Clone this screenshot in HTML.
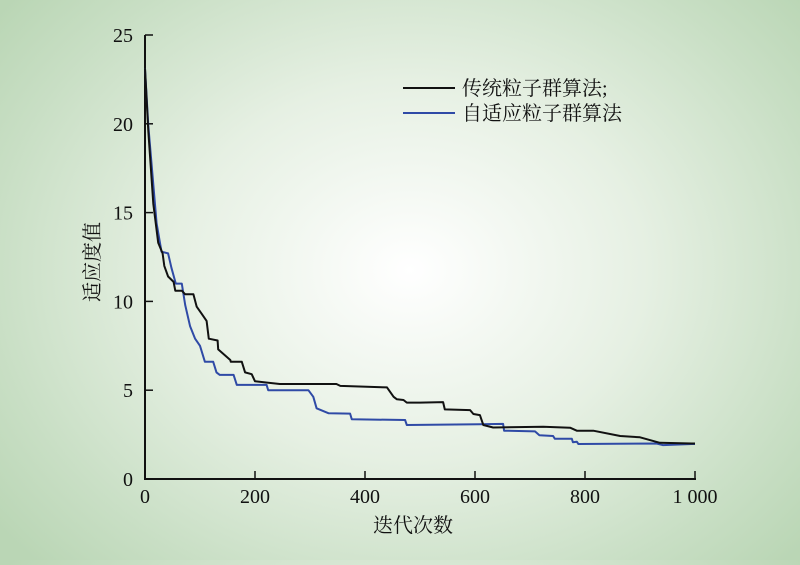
<!DOCTYPE html>
<html><head><meta charset="utf-8"><style>
html,body{margin:0;padding:0}
body{width:800px;height:560px;overflow:hidden;background:radial-gradient(ellipse 520px 420px at 410px 270px,#ffffff 0%,#e6f0e3 45%,#c9dfc5 80%,#bad6b5 100%)}
svg text{font-family:"Liberation Serif","Noto Serif CJK SC",serif;fill:#111}
</style></head><body>
<svg id="chart" width="800" height="560" xmlns="http://www.w3.org/2000/svg">
<g id="axes"></g>
<g id="series"></g>
<g>
<line x1="403" y1="88" x2="455" y2="88" stroke="#111" stroke-width="2"/>
<text x="462" y="95" font-size="20">传统粒子群算法;</text>
<line x1="403" y1="113" x2="455" y2="113" stroke="#2f4aa6" stroke-width="2"/>
<text x="462" y="120" font-size="20">自适应粒子群算法</text>
</g>
<text x="413" y="532" font-size="20" text-anchor="middle">迭代次数</text>
<text transform="translate(99,262) rotate(-90)" font-size="20" text-anchor="middle">适应度值</text>
</svg>
<script>
const xTicks=[0,200,400,600,800,1000];
const xTickLabels=["0","200","400","600","800","1 000"];
const yTicks=[0,5,10,15,20,25];
const yTickLabels=["0","5","10","15","20","25"];
const stdX=[0,6,15,24,32,35,42,52,55,67,73,88,94,103,112,116,132,133,155,156,176,182,194,200,245,348,355,440,452,458,470,476,500,542,545,591,597,609,615,633,724,773,785,815,864,900,936,994,1000];
const stdY=[23.1,19.6,15.5,13.3,12.7,12.0,11.4,11.1,10.6,10.6,10.4,10.4,9.7,9.3,8.9,7.9,7.8,7.3,6.7,6.6,6.6,6.0,5.9,5.5,5.35,5.35,5.24,5.16,4.63,4.49,4.45,4.3,4.3,4.33,3.92,3.88,3.66,3.6,3.04,2.9,2.94,2.89,2.72,2.72,2.42,2.35,2.04,2.0,2.0];
const adpX=[0,6,21,30,42,48,56,67,73,82,91,100,109,124,130,136,161,167,221,224,297,306,312,334,373,376,473,476,609,651,653,709,717,742,745,776,778,785,788,930,942,994,1000];
const adpY=[23.1,19.9,14.4,12.8,12.7,11.9,11.0,11.0,9.8,8.6,7.9,7.5,6.6,6.6,6.0,5.86,5.86,5.3,5.3,5.0,5.0,4.63,3.98,3.7,3.68,3.36,3.32,3.04,3.08,3.1,2.72,2.68,2.46,2.42,2.27,2.27,2.07,2.1,1.97,2.0,1.91,1.97,1.97];
const X0=145,X1=695,Y0=479,Y1=35;
const sx=v=>X0+(X1-X0)*v/1000;
const sy=v=>Y0-(Y0-Y1)*v/25;
const NS="http://www.w3.org/2000/svg";
function mk(tag,attrs,parent){const e=document.createElementNS(NS,tag);for(const k in attrs)e.setAttribute(k,attrs[k]);parent.appendChild(e);return e;}
const axes=document.getElementById('axes');
let a=mk('line',{x1:X0,y1:Y0,x2:X1+1,y2:Y0,stroke:'#111','stroke-width':2},axes);


a=mk('line',{x1:X0,y1:Y0+1,x2:X0,y2:Y1,stroke:'#111','stroke-width':2},axes);


xTicks.forEach((t,i)=>{
 const tk=mk('line',{x1:sx(t),y1:Y0,x2:sx(t),y2:Y0-8,stroke:'#111','stroke-width':1.5},axes);
 
 
 const tl=mk('text',{x:sx(t),y:Y0+24,'font-size':20,'text-anchor':'middle'},axes);
 tl.textContent=xTickLabels[i];
 
 
});
yTicks.forEach((t,i)=>{
 const tk=mk('line',{x1:X0,y1:sy(t),x2:X0+8,y2:sy(t),stroke:'#111','stroke-width':1.5},axes);
 
 
 const tl=mk('text',{x:X0-12,y:sy(t)+7,'font-size':20,'text-anchor':'end'},axes);
 tl.textContent=yTickLabels[i];
 
 
});
const ser=document.getElementById('series');
function line(xs,ys,color,name){
 const pts=xs.map((x,i)=>sx(x).toFixed(1)+','+sy(ys[i]).toFixed(1)).join(' ');
 const p=mk('polyline',{points:pts,fill:'none',stroke:color,'stroke-width':2,'stroke-linejoin':'round'},ser);
 
 
}
line(adpX,adpY,'#2f4aa6','adaptive-pso-line');
line(stdX,stdY,'#111','standard-pso-line');
</script>
</body></html>
